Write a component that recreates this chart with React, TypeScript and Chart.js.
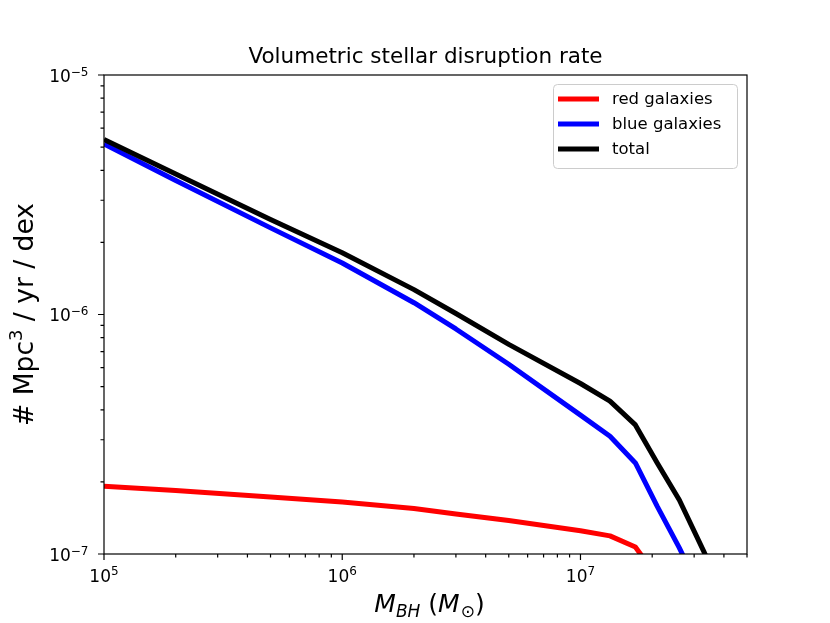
import React, { useEffect, useRef } from "react";
import { Chart, registerables } from "chart.js";

Chart.register(...registerables);

// black hole mass grid (Msun) and the rates
const massGrid = [1e5, 2e5, 5e5, 1e6, 2e6, 3e6, 5e6, 1e7, 1.33e7, 1.7e7, 2.1e7, 2.6e7, 3.3e7, 4.2e7];
const redRate = [1.92e-7, 1.84e-7, 1.73e-7, 1.65e-7, 1.55e-7, 1.47e-7, 1.38e-7, 1.25e-7, 1.19e-7, 1.07e-7, 8.0e-8, 6.0e-8, 3.5e-8, 2.0e-8];
const blueRate = [5.15e-6, 3.63e-6, 2.3e-6, 1.64e-6, 1.12e-6, 8.7e-7, 6.2e-7, 3.8e-7, 3.1e-7, 2.4e-7, 1.58e-7, 1.06e-7, 6.5e-8, 4.0e-8];
const totalRate = [5.38e-6, 3.86e-6, 2.49e-6, 1.81e-6, 1.27e-6, 1.01e-6, 7.5e-7, 5.15e-7, 4.35e-7, 3.46e-7, 2.4e-7, 1.68e-7, 1.02e-7, 6.0e-8];

const seriesLabels = ["red galaxies", "blue galaxies", "total"];
const seriesColors = ["#ff0000", "#0000ff", "#000000"];

const xMajorTicks = [1e5, 1e6, 1e7];
const yMajorTicks = [1e-7, 1e-6, 1e-5];
const xRange = [1e5, 5e7];
const yRange = [1e-7, 1e-5];

const titleText = "Volumetric stellar disruption rate";

const FONT = "DejaVu Sans";

const isMajor = (v: number) => Math.abs(Math.log10(v) - Math.round(Math.log10(v))) < 1e-6;
const expText = (v: number) => String(Math.round(Math.log10(v))).replace("-", "\u2212");

// minor ticks at 2..9 of every decade, up to the axis limit
const withMinors = (majors: number[], max: number) => {
  const out: number[] = [];
  majors.forEach((m) => {
    for (let k = 1; k <= 9; k++) {
      const v = m * k;
      if (v <= max * 1.0001) out.push(v);
    }
  });
  return out;
};

type Part = { t: string; f: string; dy: number; gap?: number };

// draws a run of text pieces (sub/superscripts) left to right from x
const drawParts = (ctx: CanvasRenderingContext2D, parts: Part[], x: number, y: number) => {
  let cur = x;
  parts.forEach((p) => {
    ctx.font = p.f;
    ctx.fillText(p.t, cur, y + p.dy);
    cur += ctx.measureText(p.t).width + (p.gap || 0);
  });
};
const partsWidth = (ctx: CanvasRenderingContext2D, parts: Part[]) => {
  let w = 0;
  parts.forEach((p) => {
    ctx.font = p.f;
    w += ctx.measureText(p.t).width + (p.gap || 0);
  });
  return w;
};

const powParts = (v: number): Part[] => [
  { t: "10", f: `17px "${FONT}"`, dy: 0 },
  { t: expText(v), f: `12px "${FONT}"`, dy: -7 },
];

const framePlugin = {
  id: "frame",
  afterDraw(chart: any) {
    const { ctx, chartArea: a, scales } = chart;
    ctx.save();

    // spines
    ctx.strokeStyle = "#000";
    ctx.lineWidth = 1.2;
    ctx.strokeRect(a.left, a.top, a.right - a.left, a.bottom - a.top);

    // tick marks, outward, bottom and left only
    ctx.beginPath();
    scales.x.ticks.forEach((t: any) => {
      const px = scales.x.getPixelForValue(t.value);
      const len = isMajor(t.value) ? 6 : 3.5;
      ctx.moveTo(px, a.bottom);
      ctx.lineTo(px, a.bottom + len);
    });
    scales.y.ticks.forEach((t: any) => {
      const py = scales.y.getPixelForValue(t.value);
      const len = isMajor(t.value) ? 6 : 3.5;
      ctx.moveTo(a.left, py);
      ctx.lineTo(a.left - len, py);
    });
    ctx.stroke();

    ctx.fillStyle = "#000";
    ctx.textAlign = "left";
    ctx.textBaseline = "alphabetic";

    // tick labels 10^n
    scales.x.ticks.forEach((t: any) => {
      if (!isMajor(t.value)) return;
      const px = scales.x.getPixelForValue(t.value);
      const parts = powParts(t.value);
      drawParts(ctx, parts, px - partsWidth(ctx, parts) / 2, a.bottom + 28);
    });
    scales.y.ticks.forEach((t: any) => {
      if (!isMajor(t.value)) return;
      const py = scales.y.getPixelForValue(t.value);
      const parts = powParts(t.value);
      parts[1].dy = -6;
      drawParts(ctx, parts, a.left - 15.5 - partsWidth(ctx, parts), py + 6.5);
    });

    const cx = (a.left + a.right) / 2;
    const cy = (a.top + a.bottom) / 2;

    // title
    ctx.font = `21.5px "${FONT}"`;
    ctx.textAlign = "center";
    ctx.fillText(titleText, cx, a.top - 12);
    ctx.textAlign = "left";

    // x label: M_BH (M_sun)
    const xParts: Part[] = [
      { t: "M", f: `italic 25px "${FONT}"`, dy: 0 },
      { t: "BH", f: `italic 17px "${FONT}"`, dy: 5 },
      { t: " (", f: `25px "${FONT}"`, dy: 0 },
      { t: "M", f: `italic 25px "${FONT}"`, dy: 0, gap: 1 },
      { t: "\u2299", f: `17px "${FONT}"`, dy: 5 },
      { t: ")", f: `25px "${FONT}"`, dy: 0 },
    ];
    drawParts(ctx, xParts, cx + 4 - partsWidth(ctx, xParts) / 2, a.bottom + 58);

    // y label
    const yParts: Part[] = [
      { t: "# Mpc", f: `26.5px "${FONT}"`, dy: 0 },
      { t: "3", f: `18px "${FONT}"`, dy: -11 },
      { t: " / yr / dex", f: `26.5px "${FONT}"`, dy: 0 },
    ];
    ctx.save();
    ctx.translate(33, cy);
    ctx.rotate(-Math.PI / 2);
    drawParts(ctx, yParts, -partsWidth(ctx, yParts) / 2, 0);
    ctx.restore();

    // legend box, upper right
    const bw = 184;
    const bh = 84;
    const bx = a.right - 10 - bw;
    const by = a.top + 9;
    ctx.beginPath();
    ctx.roundRect(bx + 0.5, by + 0.5, bw, bh, 4);
    ctx.fillStyle = "rgba(255,255,255,0.8)";
    ctx.fill();
    ctx.strokeStyle = "#cccccc";
    ctx.lineWidth = 1;
    ctx.stroke();

    ctx.font = `16.5px "${FONT}"`;
    ctx.textBaseline = "middle";
    chart.data.datasets.forEach((ds: any, i: number) => {
      const ry = by + 15 + i * 25;
      ctx.beginPath();
      ctx.strokeStyle = ds.borderColor;
      ctx.lineWidth = 5;
      ctx.moveTo(bx + 5, ry);
      ctx.lineTo(bx + 46, ry);
      ctx.stroke();
      ctx.fillStyle = "#000";
      ctx.fillText(ds.label, bx + 59, ry + 1);
    });

    ctx.restore();
  },
};

const App = () => {
  const canvasRef = useRef<HTMLCanvasElement | null>(null);

  useEffect(() => {
    document.body.style.margin = "0";
    if (!canvasRef.current) return;
    const ctx = canvasRef.current.getContext("2d");
    if (!ctx) return;

    const series = [redRate, blueRate, totalRate];
    const xTickValues = withMinors(xMajorTicks, xRange[1]);
    const yTickValues = withMinors(yMajorTicks, yRange[1]);

    const chart = new Chart(ctx, {
      type: "line",
      data: {
        datasets: series.map((vals, i) => ({
          label: seriesLabels[i],
          data: massGrid.map((m, j) => ({ x: m, y: vals[j] })),
          borderColor: seriesColors[i],
          backgroundColor: seriesColors[i],
          borderWidth: 5,
          pointRadius: 0,
          tension: 0,
          borderJoinStyle: "round",
          order: series.length - i,
        })),
      },
      options: {
        responsive: false,
        animation: false,
        layout: { padding: { top: 75, right: 83, left: 0, bottom: 0 } },
        plugins: {
          legend: { display: false },
          title: { display: false },
          tooltip: { enabled: false },
        },
        scales: {
          x: {
            type: "logarithmic",
            min: xRange[0],
            max: xRange[1],
            grid: { display: false, drawTicks: false },
            border: { display: false },
            afterFit: (s: any) => {
              s.height = 69;
            },
            afterBuildTicks: (s: any) => {
              s.ticks = xTickValues.map((v) => ({ value: v, major: isMajor(v) }));
            },
            ticks: { display: false, autoSkip: false },
          },
          y: {
            type: "logarithmic",
            min: yRange[0],
            max: yRange[1],
            grid: { display: false, drawTicks: false },
            border: { display: false },
            afterFit: (s: any) => {
              s.width = 104;
            },
            afterBuildTicks: (s: any) => {
              s.ticks = yTickValues.map((v) => ({ value: v, major: isMajor(v) }));
            },
            ticks: { display: false, autoSkip: false },
          },
        },
      },
      plugins: [framePlugin],
    });

    return () => {
      chart.destroy();
    };
  }, []);

  return <canvas ref={canvasRef} width={830} height={623} style={{ display: "block" }} />;
};

export default App;
